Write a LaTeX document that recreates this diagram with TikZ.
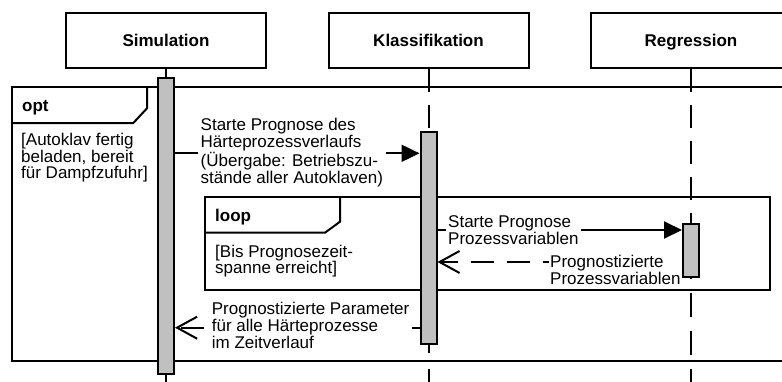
\documentclass[tikz,border=0pt]{standalone}
\usepackage{fontspec}
\setmainfont{Liberation Sans}
\usetikzlibrary{arrows.meta,backgrounds}
\definecolor{barcol}{RGB}{192,192,192}
\begin{document}
\begin{tikzpicture}[x=1pt,y=-1pt,
  lw/.style={line width=2pt},
  headbox/.style={draw,lw,minimum width=200pt,minimum height=55pt,inner sep=0pt,text height=12pt,text depth=0pt,font=\fontsize{17}{17}\selectfont\bfseries},
  actbar/.style={draw,lw,fill=barcol,minimum width=16pt,inner sep=0pt},
  frame/.style={draw,lw,inner sep=0pt},
  txt/.style={font=\fontsize{17}{16.5}\selectfont,align=left,inner sep=0pt},
  lbl/.style={txt,fill=white,inner xsep=3pt,inner ysep=1pt},
  ftitle/.style={font=\fontsize{17}{17}\selectfont\bfseries,inner sep=0pt,anchor=base west},
  life/.style={lw,dash pattern=on 23pt off 13pt},
  syncmsg/.style={lw,-{Triangle[length=18pt,width=17pt]}},
  replymsg/.style={lw,dash pattern=on 23pt off 13pt,-{Straight Barb[length=20pt,width=22pt]}},
]
\useasboundingbox (0,0) rectangle (782,381);
\clip (0,0) rectangle (782,381);

% frames
\node[frame,minimum width=788pt,minimum height=274pt] (optframe) at (406,224) {};
\draw[lw] (12,123) -- (133.3,123) -- (147,108.3) -- (147,87);
\node[ftitle] (optt) at (22,111.7) {opt};
\node[txt,anchor=north west] (optg) at (21,133.3) {[Autoklav fertig\\beladen, bereit\\für Dampfzufuhr]};

\node[frame,minimum width=565pt,minimum height=93.3pt] (loopframe) at (487.5,243.35) {};
\draw[lw] (205,232.7) -- (325,232.7) -- (340,221.7) -- (340,196.7);
\node[ftitle] (loopt) at (215,221.7) {loop};
\node[txt,anchor=north west] (loopg) at (215,244.9) {[Bis Prognosezeit-\\spanne erreicht]};

% heads
\node[headbox] (sim) at (166,40.5) {Simulation};
\node[headbox] (kla) at (428.5,40.5) {Klassifikation};
\node[headbox] (reg) at (691,40.5) {Regression};

% activation bars
\node[actbar,minimum height=296pt] (simbar) at (166,226) {};
\node[actbar,minimum height=212pt] (klabar) at (428.5,238) {};
\node[actbar,minimum height=53pt] (regbar) at (691,250.5) {};

\coordinate (simend) at (166,390);
\coordinate (klaend) at (428.5,390);
\coordinate (regend) at (691,390);

% lifelines (behind the bars)
\begin{scope}[on background layer]
\draw[lw] (sim.south) -- (simbar.north);
\draw[lw] (simbar.south) -- (simend);
\draw[life] (kla.south) -- (klabar.north);
\draw[lw,dash pattern=on 24pt off 16pt,dash phase=16pt] (klabar.south) -- (klaend);
\draw[life] (reg.south) -- (regbar.north);
\draw[lw,dash pattern=on 24pt off 14pt,dash phase=23pt] (regbar.south) -- (regend);
\end{scope}

% messages
\coordinate (y1) at (0,153.3);
\coordinate (y2) at (0,230);
\coordinate (y3) at (0,262);
\coordinate (y4) at (0,327.7);

\draw[syncmsg] (simbar.east |- y1) -- (klabar.west |- y1);
\node[lbl,anchor=west,font=\fontsize{17}{17.3}\selectfont] (l1) at (197.5,152.3)
  {Starte Prognose des\\Härteprozessverlaufs\\(Übergabe: Betriebszu-\\stände aller Autoklaven)};

\draw[syncmsg] (klabar.east |- y2) -- (regbar.west |- y2);
\node[lbl,anchor=west,inner xsep=2pt] (l2) at (446,230) {Starte Prognose\\Prozessvariablen};

\draw[replymsg,dash phase=28pt] (regbar.west |- y3) -- (klabar.east |- y3);
\node[lbl,anchor=west,inner xsep=1.5pt,font=\fontsize{17}{15.5}\selectfont] (l3) at (548.5,269.5) {Prognostizierte\\Prozessvariablen};

\draw[replymsg] (klabar.west |- y4) -- (simbar.east |- y4);
\node[lbl,anchor=west,font=\fontsize{17}{15.5}\selectfont] (l4) at (208.7,325.4)
  {Prognostizierte Parameter\\für alle Härteprozesse\\im Zeitverlauf};
\end{tikzpicture}
\end{document}
